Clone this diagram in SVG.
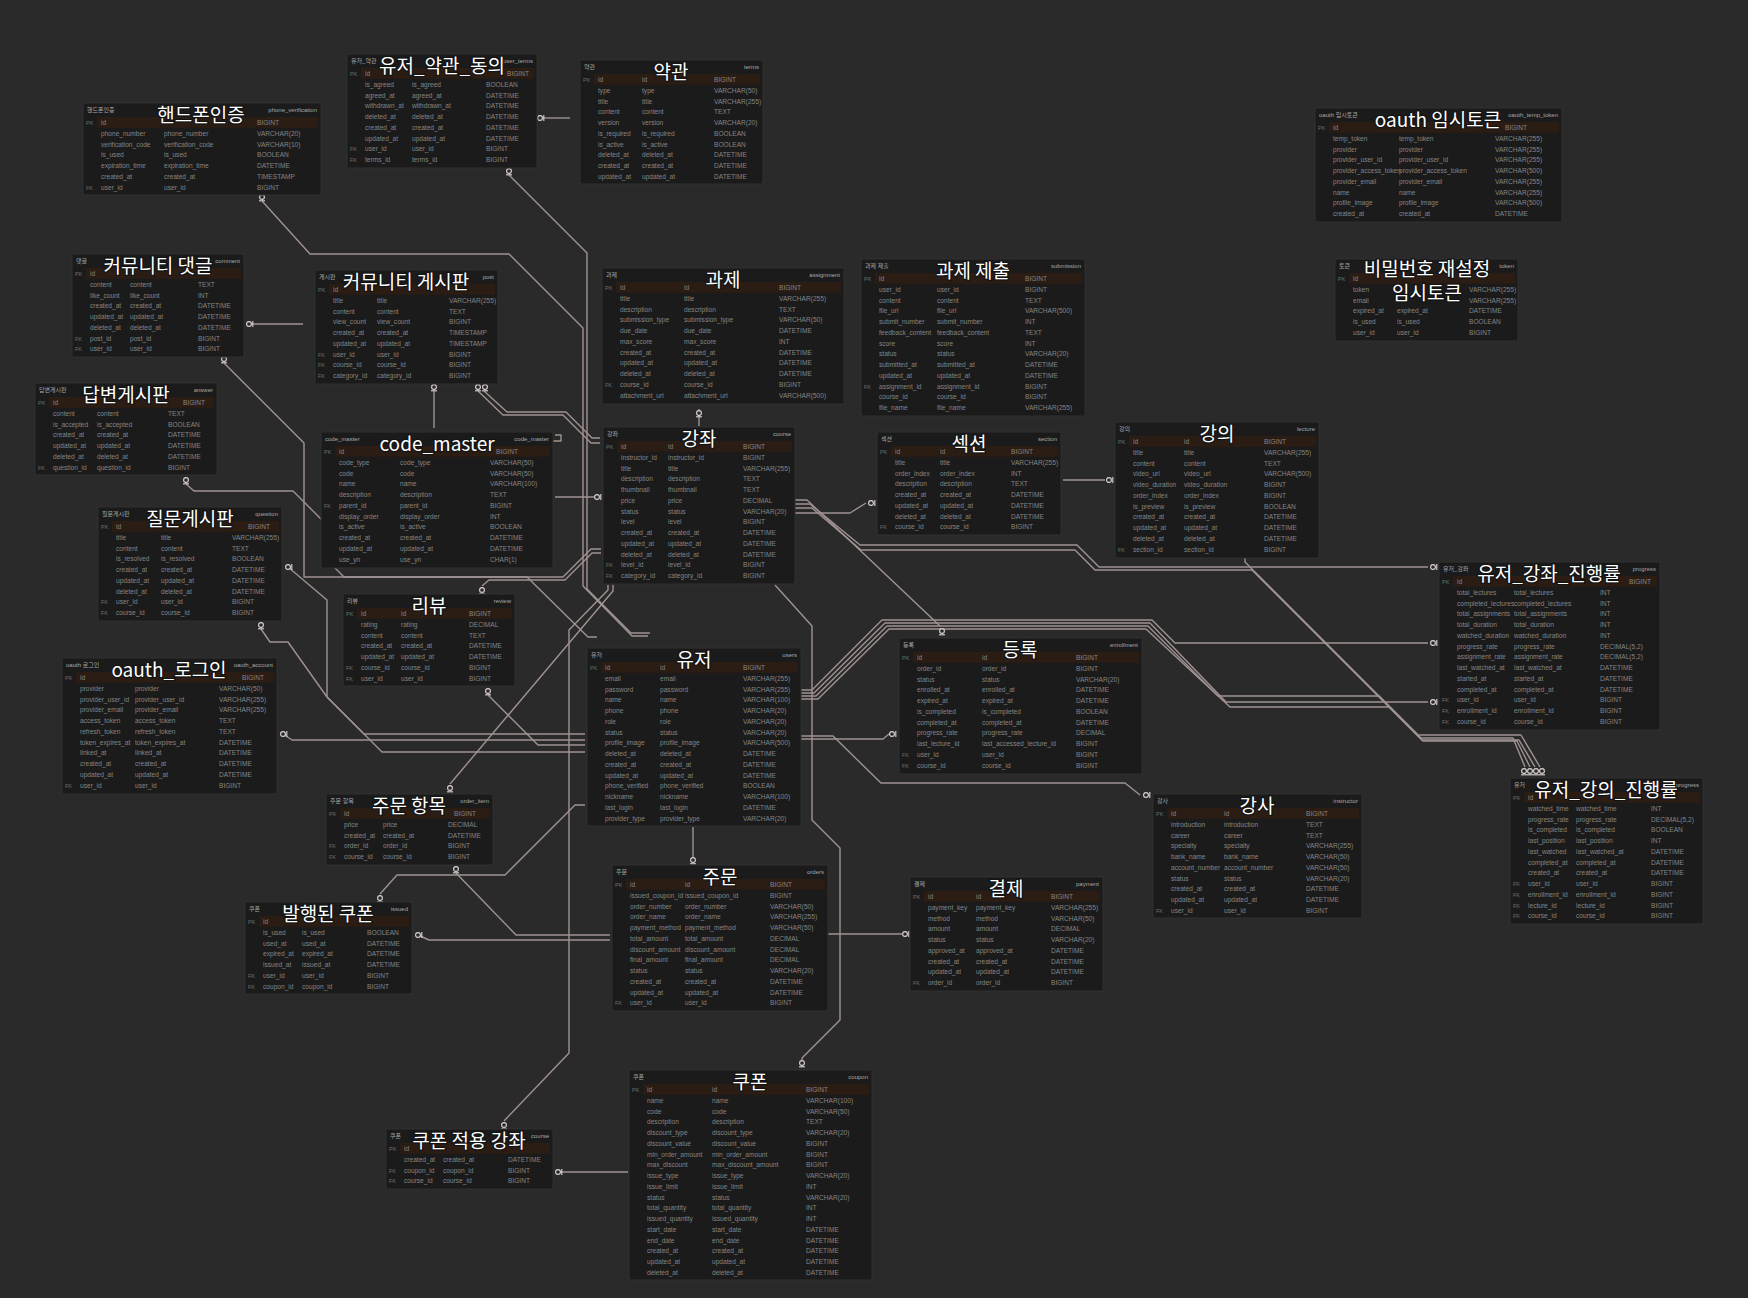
<svg xmlns="http://www.w3.org/2000/svg" width="1748" height="1298" viewBox="0 0 1748 1298">
<style>
.tb{fill:#1b1b1b;stroke:#303030;stroke-width:1}
.pk{fill:#2c1d14}
.t{font-family:"Noto Sans CJK KR","Noto Sans",sans-serif;font-size:19px;fill:#fff;text-anchor:middle;stroke:#141414;stroke-width:2.5;paint-order:stroke}
.h{font-family:"Liberation Sans","Noto Sans CJK KR",sans-serif;font-size:6px;fill:#a8a8a8}
.e{text-anchor:end}
.r{font-family:"Liberation Sans",sans-serif;font-size:6.6px;fill:#858585}
.k{font-size:5.5px;fill:#6f6f6f}
.c{fill:none;stroke:#a09392;stroke-width:1.4;stroke-linejoin:round}
.mk{fill:#2a2a2a;stroke:#ddd5d3;stroke-width:1.1}
</style>
<defs>
<g id="mv"><circle class="mk" cx="0" cy="0" r="2.4"/><path class="mk" d="M-3,3.8H3"/></g>
<g id="mh"><circle class="mk" cx="0" cy="0" r="2.4"/><path class="mk" d="M3.8,-3V3"/></g>
</defs>
<rect width="1748" height="1298" fill="#2a2a2a"/>

<g id="connectors">
<path class="c" d="M541,118H570"/>
<path class="c" d="M262,201L310,254H509L583,328V586L632,636H648"/>
<path class="c" d="M509,175L587,253V589L631,633H650"/>
<path class="c" d="M250,324H303"/>
<path class="c" d="M434,391V428"/>
<path class="c" d="M478,391L503,415H563L591,443H600"/>
<path class="c" d="M484,391L507,412H566L592,438H600"/>
<path class="c" d="M224,363L304,443V577H527L588,637H597"/>
<path class="c" d="M186,484L194,491H293L327,525V560L344,577H563L591,549H601"/>
<path class="c" d="M482,586L489,580H565L592,553H601"/>
<path class="c" d="M555,497H594"/>
<path class="c" d="M288,567L327,600V697L382,752H585"/>
<path class="c" d="M261,629L270,642H288L327,697L364,734H585"/>
<path class="c" d="M283,734L292,740H585"/>
<path class="c" d="M488,695L538,745H585"/>
<path class="c" d="M450,784L613,591V585"/>
<path class="c" d="M504,1121L569,1053V630L608,590V585"/>
<path class="c" d="M456,873L516,935H610"/>
<path class="c" d="M380,894L397,875H505L575,805H585"/>
<path class="c" d="M418,935L429,940H610"/>
<path class="c" d="M558,1172H628"/>
<path class="c" d="M775,585L812,626V820L840,848V1020L802,1058V1067"/>
<path class="c" d="M693,827V857"/>
<path class="c" d="M828,934H902"/>
<path class="c" d="M801,739H883L889,734"/>
<path class="c" d="M801,736H833L881,783H1125L1140,795"/>
<path class="c" d="M801,690H812L882,620H1152L1175,643H1428"/>
<path class="c" d="M801,693H814L885,623H1150L1226,702H1428"/>
<path class="c" d="M801,696H816L887,626H1148L1218,696H1379L1421,738H1513L1525,767"/>
<path class="c" d="M801,699H818L889,629H1146L1230,707H1389L1423,741H1517L1530,767"/>
<path class="c" d="M795,513H850L866,503"/>
<path class="c" d="M795,500H807L940,626"/>
<path class="c" d="M795,504H810L860,545H1077L1099,567H1428"/>
<path class="c" d="M795,508H812L861,550H1075L1095,570H1252L1422,740H1519L1535,767"/>
<path class="c" d="M1245,556V562L1418,735H1521L1540,767"/>
<path class="c" d="M1063,480H1105"/>
<path class="c" d="M699,409V426"/>
<path class="c" d="M553,441h8v-6h-6"/>
<use href="#mh" x="540" y="118"/>
<use href="#mv" x="509" y="171"/>
<use href="#mv" x="262" y="197"/>
<use href="#mh" x="249" y="324"/>
<use href="#mv" x="434" y="387"/>
<use href="#mv" x="478" y="387"/>
<use href="#mv" x="485" y="387"/>
<use href="#mv" x="224" y="359"/>
<use href="#mv" x="186" y="480"/>
<use href="#mh" x="597" y="497"/>
<use href="#mh" x="288" y="567"/>
<use href="#mv" x="261" y="625"/>
<use href="#mv" x="482" y="590"/>
<use href="#mv" x="488" y="691"/>
<use href="#mh" x="283" y="734"/>
<use href="#mv" x="450" y="788"/>
<use href="#mv" x="456" y="869"/>
<use href="#mv" x="380" y="898"/>
<use href="#mh" x="418" y="935"/>
<use href="#mv" x="504" y="1125"/>
<use href="#mh" x="558" y="1172"/>
<use href="#mv" x="802" y="1063"/>
<use href="#mv" x="693" y="860"/>
<use href="#mh" x="905" y="934"/>
<use href="#mh" x="892" y="734"/>
<use href="#mh" x="1146" y="795"/>
<use href="#mh" x="871" y="503"/>
<use href="#mh" x="1109" y="480"/>
<use href="#mv" x="942" y="631"/>
<use href="#mh" x="1433" y="567"/>
<use href="#mh" x="1433" y="643"/>
<use href="#mh" x="1433" y="702"/>
<use href="#mv" x="1524" y="771"/>
<use href="#mv" x="1530" y="771"/>
<use href="#mv" x="1536" y="771"/>
<use href="#mv" x="1542" y="771"/>
<use href="#mv" x="699" y="413"/>
</g>

<g id="t-phone" transform="translate(83,103)">
<rect class="tb" width="238" height="92"/><rect class="pk" x="14" y="14" width="221" height="10.75"/>
<text class="h" x="4" y="9">핸드폰인증</text><text class="h e" x="234" y="9">phone_verification</text>
<text class="r" y="22"><tspan class="k" x="3">PK</tspan><tspan x="18">id</tspan><tspan x="174">BIGINT</tspan></text>
<text class="r" y="32.75"><tspan x="18">phone_number</tspan><tspan x="81">phone_number</tspan><tspan x="174">VARCHAR(20)</tspan></text>
<text class="r" y="43.5"><tspan x="18">verification_code</tspan><tspan x="81">verification_code</tspan><tspan x="174">VARCHAR(10)</tspan></text>
<text class="r" y="54.25"><tspan x="18">is_used</tspan><tspan x="81">is_used</tspan><tspan x="174">BOOLEAN</tspan></text>
<text class="r" y="65"><tspan x="18">expiration_time</tspan><tspan x="81">expiration_time</tspan><tspan x="174">DATETIME</tspan></text>
<text class="r" y="75.75"><tspan x="18">created_at</tspan><tspan x="81">created_at</tspan><tspan x="174">TIMESTAMP</tspan></text>
<text class="r" y="86.5"><tspan class="k" x="3">FK</tspan><tspan x="18">user_id</tspan><tspan x="81">user_id</tspan><tspan x="174">BIGINT</tspan></text>
<text class="t" x="118" y="19">핸드폰인증</text>
</g>

<g id="t-user-terms" transform="translate(347,54)">
<rect class="tb" width="190" height="114"/><rect class="pk" x="14" y="14" width="173" height="10.75"/>
<text class="h" x="4" y="9">유저_약관</text><text class="h e" x="186" y="9">user_terms</text>
<text class="r" y="22"><tspan class="k" x="3">PK</tspan><tspan x="18">id</tspan><tspan x="160">BIGINT</tspan></text>
<text class="r" y="32.75"><tspan x="18">is_agreed</tspan><tspan x="65">is_agreed</tspan><tspan x="139">BOOLEAN</tspan></text>
<text class="r" y="43.5"><tspan x="18">agreed_at</tspan><tspan x="65">agreed_at</tspan><tspan x="139">DATETIME</tspan></text>
<text class="r" y="54.25"><tspan x="18">withdrawn_at</tspan><tspan x="65">withdrawn_at</tspan><tspan x="139">DATETIME</tspan></text>
<text class="r" y="65"><tspan x="18">deleted_at</tspan><tspan x="65">deleted_at</tspan><tspan x="139">DATETIME</tspan></text>
<text class="r" y="75.75"><tspan x="18">created_at</tspan><tspan x="65">created_at</tspan><tspan x="139">DATETIME</tspan></text>
<text class="r" y="86.5"><tspan x="18">updated_at</tspan><tspan x="65">updated_at</tspan><tspan x="139">DATETIME</tspan></text>
<text class="r" y="97.25"><tspan class="k" x="3">FK</tspan><tspan x="18">user_id</tspan><tspan x="65">user_id</tspan><tspan x="139">BIGINT</tspan></text>
<text class="r" y="108"><tspan class="k" x="3">FK</tspan><tspan x="18">terms_id</tspan><tspan x="65">terms_id</tspan><tspan x="139">BIGINT</tspan></text>
<text class="t" x="95" y="19">유저_약관_동의</text>
</g>

<g id="t-terms" transform="translate(580,60)">
<rect class="tb" width="183" height="124"/><rect class="pk" x="14" y="14" width="166" height="10.75"/>
<text class="h" x="4" y="9">약관</text><text class="h e" x="179" y="9">terms</text>
<text class="r" y="22"><tspan class="k" x="3">PK</tspan><tspan x="18">id</tspan><tspan x="62">id</tspan><tspan x="134">BIGINT</tspan></text>
<text class="r" y="32.75"><tspan x="18">type</tspan><tspan x="62">type</tspan><tspan x="134">VARCHAR(50)</tspan></text>
<text class="r" y="43.5"><tspan x="18">title</tspan><tspan x="62">title</tspan><tspan x="134">VARCHAR(255)</tspan></text>
<text class="r" y="54.25"><tspan x="18">content</tspan><tspan x="62">content</tspan><tspan x="134">TEXT</tspan></text>
<text class="r" y="65"><tspan x="18">version</tspan><tspan x="62">version</tspan><tspan x="134">VARCHAR(20)</tspan></text>
<text class="r" y="75.75"><tspan x="18">is_required</tspan><tspan x="62">is_required</tspan><tspan x="134">BOOLEAN</tspan></text>
<text class="r" y="86.5"><tspan x="18">is_active</tspan><tspan x="62">is_active</tspan><tspan x="134">BOOLEAN</tspan></text>
<text class="r" y="97.25"><tspan x="18">deleted_at</tspan><tspan x="62">deleted_at</tspan><tspan x="134">DATETIME</tspan></text>
<text class="r" y="108"><tspan x="18">created_at</tspan><tspan x="62">created_at</tspan><tspan x="134">DATETIME</tspan></text>
<text class="r" y="118.75"><tspan x="18">updated_at</tspan><tspan x="62">updated_at</tspan><tspan x="134">DATETIME</tspan></text>
<text class="t" x="91" y="19">약관</text>
</g>

<g id="t-oauth-temp" transform="translate(1315,108)">
<rect class="tb" width="247" height="114"/><rect class="pk" x="14" y="14" width="230" height="10.75"/>
<text class="h" x="4" y="9">oauth 임시토큰</text><text class="h e" x="243" y="9">oauth_temp_token</text>
<text class="r" y="22"><tspan class="k" x="3">PK</tspan><tspan x="18">id</tspan><tspan x="190">BIGINT</tspan></text>
<text class="r" y="32.75"><tspan x="18">temp_token</tspan><tspan x="84">temp_token</tspan><tspan x="180">VARCHAR(255)</tspan></text>
<text class="r" y="43.5"><tspan x="18">provider</tspan><tspan x="84">provider</tspan><tspan x="180">VARCHAR(255)</tspan></text>
<text class="r" y="54.25"><tspan x="18">provider_user_id</tspan><tspan x="84">provider_user_id</tspan><tspan x="180">VARCHAR(255)</tspan></text>
<text class="r" y="65"><tspan x="18">provider_access_token</tspan><tspan x="84">provider_access_token</tspan><tspan x="180">VARCHAR(500)</tspan></text>
<text class="r" y="75.75"><tspan x="18">provider_email</tspan><tspan x="84">provider_email</tspan><tspan x="180">VARCHAR(255)</tspan></text>
<text class="r" y="86.5"><tspan x="18">name</tspan><tspan x="84">name</tspan><tspan x="180">VARCHAR(255)</tspan></text>
<text class="r" y="97.25"><tspan x="18">profile_image</tspan><tspan x="84">profile_image</tspan><tspan x="180">VARCHAR(500)</tspan></text>
<text class="r" y="108"><tspan x="18">created_at</tspan><tspan x="84">created_at</tspan><tspan x="180">DATETIME</tspan></text>
<text class="t" x="123" y="19">oauth 임시토큰</text>
</g>

<g id="t-comment" transform="translate(72,254)">
<rect class="tb" width="172" height="103"/><rect class="pk" x="14" y="14" width="155" height="10.75"/>
<text class="h" x="4" y="9">댓글</text><text class="h e" x="168" y="9">comment</text>
<text class="r" y="22"><tspan class="k" x="3">PK</tspan><tspan x="18">id</tspan></text>
<text class="r" y="32.75"><tspan x="18">content</tspan><tspan x="58">content</tspan><tspan x="126">TEXT</tspan></text>
<text class="r" y="43.5"><tspan x="18">like_count</tspan><tspan x="58">like_count</tspan><tspan x="126">INT</tspan></text>
<text class="r" y="54.25"><tspan x="18">created_at</tspan><tspan x="58">created_at</tspan><tspan x="126">DATETIME</tspan></text>
<text class="r" y="65"><tspan x="18">updated_at</tspan><tspan x="58">updated_at</tspan><tspan x="126">DATETIME</tspan></text>
<text class="r" y="75.75"><tspan x="18">deleted_at</tspan><tspan x="58">deleted_at</tspan><tspan x="126">DATETIME</tspan></text>
<text class="r" y="86.5"><tspan class="k" x="3">FK</tspan><tspan x="18">post_id</tspan><tspan x="58">post_id</tspan><tspan x="126">BIGINT</tspan></text>
<text class="r" y="97.25"><tspan class="k" x="3">FK</tspan><tspan x="18">user_id</tspan><tspan x="58">user_id</tspan><tspan x="126">BIGINT</tspan></text>
<text class="t" x="86" y="19">커뮤니티 댓글</text>
</g>

<g id="t-post" transform="translate(315,270)">
<rect class="tb" width="183" height="114"/><rect class="pk" x="14" y="14" width="166" height="10.75"/>
<text class="h" x="4" y="9">게시판</text><text class="h e" x="179" y="9">post</text>
<text class="r" y="22"><tspan class="k" x="3">PK</tspan><tspan x="18">id</tspan></text>
<text class="r" y="32.75"><tspan x="18">title</tspan><tspan x="62">title</tspan><tspan x="134">VARCHAR(255)</tspan></text>
<text class="r" y="43.5"><tspan x="18">content</tspan><tspan x="62">content</tspan><tspan x="134">TEXT</tspan></text>
<text class="r" y="54.25"><tspan x="18">view_count</tspan><tspan x="62">view_count</tspan><tspan x="134">BIGINT</tspan></text>
<text class="r" y="65"><tspan x="18">created_at</tspan><tspan x="62">created_at</tspan><tspan x="134">TIMESTAMP</tspan></text>
<text class="r" y="75.75"><tspan x="18">updated_at</tspan><tspan x="62">updated_at</tspan><tspan x="134">TIMESTAMP</tspan></text>
<text class="r" y="86.5"><tspan class="k" x="3">FK</tspan><tspan x="18">user_id</tspan><tspan x="62">user_id</tspan><tspan x="134">BIGINT</tspan></text>
<text class="r" y="97.25"><tspan class="k" x="3">FK</tspan><tspan x="18">course_id</tspan><tspan x="62">course_id</tspan><tspan x="134">BIGINT</tspan></text>
<text class="r" y="108"><tspan class="k" x="3">FK</tspan><tspan x="18">category_id</tspan><tspan x="62">category_id</tspan><tspan x="134">BIGINT</tspan></text>
<text class="t" x="91" y="19">커뮤니티 게시판</text>
</g>

<g id="t-assignment" transform="translate(602,268)">
<rect class="tb" width="242" height="136"/><rect class="pk" x="14" y="14" width="225" height="10.75"/>
<text class="h" x="4" y="9">과제</text><text class="h e" x="238" y="9">assignment</text>
<text class="r" y="22"><tspan class="k" x="3">PK</tspan><tspan x="18">id</tspan><tspan x="82">id</tspan><tspan x="177">BIGINT</tspan></text>
<text class="r" y="32.75"><tspan x="18">title</tspan><tspan x="82">title</tspan><tspan x="177">VARCHAR(255)</tspan></text>
<text class="r" y="43.5"><tspan x="18">description</tspan><tspan x="82">description</tspan><tspan x="177">TEXT</tspan></text>
<text class="r" y="54.25"><tspan x="18">submission_type</tspan><tspan x="82">submission_type</tspan><tspan x="177">VARCHAR(50)</tspan></text>
<text class="r" y="65"><tspan x="18">due_date</tspan><tspan x="82">due_date</tspan><tspan x="177">DATETIME</tspan></text>
<text class="r" y="75.75"><tspan x="18">max_score</tspan><tspan x="82">max_score</tspan><tspan x="177">INT</tspan></text>
<text class="r" y="86.5"><tspan x="18">created_at</tspan><tspan x="82">created_at</tspan><tspan x="177">DATETIME</tspan></text>
<text class="r" y="97.25"><tspan x="18">updated_at</tspan><tspan x="82">updated_at</tspan><tspan x="177">DATETIME</tspan></text>
<text class="r" y="108"><tspan x="18">deleted_at</tspan><tspan x="82">deleted_at</tspan><tspan x="177">DATETIME</tspan></text>
<text class="r" y="118.75"><tspan class="k" x="3">FK</tspan><tspan x="18">course_id</tspan><tspan x="82">course_id</tspan><tspan x="177">BIGINT</tspan></text>
<text class="r" y="129.5"><tspan x="18">attachment_url</tspan><tspan x="82">attachment_url</tspan><tspan x="177">VARCHAR(500)</tspan></text>
<text class="t" x="121" y="19">과제</text>
</g>

<g id="t-submission" transform="translate(861,259)">
<rect class="tb" width="224" height="157"/><rect class="pk" x="14" y="14" width="207" height="10.75"/>
<text class="h" x="4" y="9">과제 제출</text><text class="h e" x="220" y="9">submission</text>
<text class="r" y="22"><tspan class="k" x="3">PK</tspan><tspan x="18">id</tspan><tspan x="164">BIGINT</tspan></text>
<text class="r" y="32.75"><tspan x="18">user_id</tspan><tspan x="76">user_id</tspan><tspan x="164">BIGINT</tspan></text>
<text class="r" y="43.5"><tspan x="18">content</tspan><tspan x="76">content</tspan><tspan x="164">TEXT</tspan></text>
<text class="r" y="54.25"><tspan x="18">file_url</tspan><tspan x="76">file_url</tspan><tspan x="164">VARCHAR(500)</tspan></text>
<text class="r" y="65"><tspan x="18">submit_number</tspan><tspan x="76">submit_number</tspan><tspan x="164">INT</tspan></text>
<text class="r" y="75.75"><tspan x="18">feedback_content</tspan><tspan x="76">feedback_content</tspan><tspan x="164">TEXT</tspan></text>
<text class="r" y="86.5"><tspan x="18">score</tspan><tspan x="76">score</tspan><tspan x="164">INT</tspan></text>
<text class="r" y="97.25"><tspan x="18">status</tspan><tspan x="76">status</tspan><tspan x="164">VARCHAR(20)</tspan></text>
<text class="r" y="108"><tspan x="18">submitted_at</tspan><tspan x="76">submitted_at</tspan><tspan x="164">DATETIME</tspan></text>
<text class="r" y="118.75"><tspan x="18">updated_at</tspan><tspan x="76">updated_at</tspan><tspan x="164">DATETIME</tspan></text>
<text class="r" y="129.5"><tspan class="k" x="3">FK</tspan><tspan x="18">assignment_id</tspan><tspan x="76">assignment_id</tspan><tspan x="164">BIGINT</tspan></text>
<text class="r" y="140.25"><tspan x="18">course_id</tspan><tspan x="76">course_id</tspan><tspan x="164">BIGINT</tspan></text>
<text class="r" y="151"><tspan x="18">file_name</tspan><tspan x="76">file_name</tspan><tspan x="164">VARCHAR(255)</tspan></text>
<text class="t" x="112" y="19">과제 제출</text>
</g>

<g id="t-pw-reset" transform="translate(1335,259)">
<rect class="tb" width="183" height="82"/><rect class="pk" x="14" y="14" width="166" height="10.75"/>
<text class="h" x="4" y="9">토큰</text><text class="h e" x="179" y="9">token</text>
<text class="r" y="22"><tspan class="k" x="3">PK</tspan><tspan x="18">id</tspan></text>
<text class="r" y="32.75"><tspan x="18">token</tspan><tspan x="134">VARCHAR(255)</tspan></text>
<text class="r" y="43.5"><tspan x="18">email</tspan><tspan x="134">VARCHAR(255)</tspan></text>
<text class="r" y="54.25"><tspan x="18">expired_at</tspan><tspan x="62">expired_at</tspan><tspan x="134">DATETIME</tspan></text>
<text class="r" y="65"><tspan x="18">is_used</tspan><tspan x="62">is_used</tspan><tspan x="134">BOOLEAN</tspan></text>
<text class="r" y="75.75"><tspan x="18">user_id</tspan><tspan x="62">user_id</tspan><tspan x="134">BIGINT</tspan></text>
<text class="t" x="92" y="17">비밀번호 재설정</text>
<text class="t" x="92" y="41">임시토큰</text>
</g>

<g id="t-answer" transform="translate(35,383)">
<rect class="tb" width="182" height="92"/><rect class="pk" x="14" y="14" width="165" height="10.75"/>
<text class="h" x="4" y="9">답변게시판</text><text class="h e" x="178" y="9">answer</text>
<text class="r" y="22"><tspan class="k" x="3">PK</tspan><tspan x="18">id</tspan><tspan x="148">BIGINT</tspan></text>
<text class="r" y="32.75"><tspan x="18">content</tspan><tspan x="62">content</tspan><tspan x="133">TEXT</tspan></text>
<text class="r" y="43.5"><tspan x="18">is_accepted</tspan><tspan x="62">is_accepted</tspan><tspan x="133">BOOLEAN</tspan></text>
<text class="r" y="54.25"><tspan x="18">created_at</tspan><tspan x="62">created_at</tspan><tspan x="133">DATETIME</tspan></text>
<text class="r" y="65"><tspan x="18">updated_at</tspan><tspan x="62">updated_at</tspan><tspan x="133">DATETIME</tspan></text>
<text class="r" y="75.75"><tspan x="18">deleted_at</tspan><tspan x="62">deleted_at</tspan><tspan x="133">DATETIME</tspan></text>
<text class="r" y="86.5"><tspan class="k" x="3">FK</tspan><tspan x="18">question_id</tspan><tspan x="62">question_id</tspan><tspan x="133">BIGINT</tspan></text>
<text class="t" x="91" y="19">답변게시판</text>
</g>

<g id="t-code-master" transform="translate(321,432)">
<rect class="tb" width="232" height="136"/><rect class="pk" x="14" y="14" width="215" height="10.75"/>
<text class="h" x="4" y="9">code_master</text><text class="h e" x="228" y="9">code_master</text>
<text class="r" y="22"><tspan class="k" x="3">PK</tspan><tspan x="18">id</tspan><tspan x="175">BIGINT</tspan></text>
<text class="r" y="32.75"><tspan x="18">code_type</tspan><tspan x="79">code_type</tspan><tspan x="169">VARCHAR(50)</tspan></text>
<text class="r" y="43.5"><tspan x="18">code</tspan><tspan x="79">code</tspan><tspan x="169">VARCHAR(50)</tspan></text>
<text class="r" y="54.25"><tspan x="18">name</tspan><tspan x="79">name</tspan><tspan x="169">VARCHAR(100)</tspan></text>
<text class="r" y="65"><tspan x="18">description</tspan><tspan x="79">description</tspan><tspan x="169">TEXT</tspan></text>
<text class="r" y="75.75"><tspan class="k" x="3">FK</tspan><tspan x="18">parent_id</tspan><tspan x="79">parent_id</tspan><tspan x="169">BIGINT</tspan></text>
<text class="r" y="86.5"><tspan x="18">display_order</tspan><tspan x="79">display_order</tspan><tspan x="169">INT</tspan></text>
<text class="r" y="97.25"><tspan x="18">is_active</tspan><tspan x="79">is_active</tspan><tspan x="169">BOOLEAN</tspan></text>
<text class="r" y="108"><tspan x="18">created_at</tspan><tspan x="79">created_at</tspan><tspan x="169">DATETIME</tspan></text>
<text class="r" y="118.75"><tspan x="18">updated_at</tspan><tspan x="79">updated_at</tspan><tspan x="169">DATETIME</tspan></text>
<text class="r" y="129.5"><tspan x="18">use_yn</tspan><tspan x="79">use_yn</tspan><tspan x="169">CHAR(1)</tspan></text>
<text class="t" x="116" y="19">code_master</text>
</g>

<g id="t-course" transform="translate(603,427)">
<rect class="tb" width="192" height="157"/><rect class="pk" x="14" y="14" width="175" height="10.75"/>
<text class="h" x="4" y="9">강좌</text><text class="h e" x="188" y="9">course</text>
<text class="r" y="22"><tspan class="k" x="3">PK</tspan><tspan x="18">id</tspan><tspan x="65">id</tspan><tspan x="140">BIGINT</tspan></text>
<text class="r" y="32.75"><tspan x="18">instructor_id</tspan><tspan x="65">instructor_id</tspan><tspan x="140">BIGINT</tspan></text>
<text class="r" y="43.5"><tspan x="18">title</tspan><tspan x="65">title</tspan><tspan x="140">VARCHAR(255)</tspan></text>
<text class="r" y="54.25"><tspan x="18">description</tspan><tspan x="65">description</tspan><tspan x="140">TEXT</tspan></text>
<text class="r" y="65"><tspan x="18">thumbnail</tspan><tspan x="65">thumbnail</tspan><tspan x="140">TEXT</tspan></text>
<text class="r" y="75.75"><tspan x="18">price</tspan><tspan x="65">price</tspan><tspan x="140">DECIMAL</tspan></text>
<text class="r" y="86.5"><tspan x="18">status</tspan><tspan x="65">status</tspan><tspan x="140">VARCHAR(20)</tspan></text>
<text class="r" y="97.25"><tspan x="18">level</tspan><tspan x="65">level</tspan><tspan x="140">BIGINT</tspan></text>
<text class="r" y="108"><tspan x="18">created_at</tspan><tspan x="65">created_at</tspan><tspan x="140">DATETIME</tspan></text>
<text class="r" y="118.75"><tspan x="18">updated_at</tspan><tspan x="65">updated_at</tspan><tspan x="140">DATETIME</tspan></text>
<text class="r" y="129.5"><tspan x="18">deleted_at</tspan><tspan x="65">deleted_at</tspan><tspan x="140">DATETIME</tspan></text>
<text class="r" y="140.25"><tspan class="k" x="3">FK</tspan><tspan x="18">level_id</tspan><tspan x="65">level_id</tspan><tspan x="140">BIGINT</tspan></text>
<text class="r" y="151"><tspan class="k" x="3">FK</tspan><tspan x="18">category_id</tspan><tspan x="65">category_id</tspan><tspan x="140">BIGINT</tspan></text>
<text class="t" x="96" y="19">강좌</text>
</g>

<g id="t-section" transform="translate(877,432)">
<rect class="tb" width="184" height="103"/><rect class="pk" x="14" y="14" width="167" height="10.75"/>
<text class="h" x="4" y="9">섹션</text><text class="h e" x="180" y="9">section</text>
<text class="r" y="22"><tspan class="k" x="3">PK</tspan><tspan x="18">id</tspan><tspan x="63">id</tspan><tspan x="134">BIGINT</tspan></text>
<text class="r" y="32.75"><tspan x="18">title</tspan><tspan x="63">title</tspan><tspan x="134">VARCHAR(255)</tspan></text>
<text class="r" y="43.5"><tspan x="18">order_index</tspan><tspan x="63">order_index</tspan><tspan x="134">INT</tspan></text>
<text class="r" y="54.25"><tspan x="18">description</tspan><tspan x="63">description</tspan><tspan x="134">TEXT</tspan></text>
<text class="r" y="65"><tspan x="18">created_at</tspan><tspan x="63">created_at</tspan><tspan x="134">DATETIME</tspan></text>
<text class="r" y="75.75"><tspan x="18">updated_at</tspan><tspan x="63">updated_at</tspan><tspan x="134">DATETIME</tspan></text>
<text class="r" y="86.5"><tspan x="18">deleted_at</tspan><tspan x="63">deleted_at</tspan><tspan x="134">DATETIME</tspan></text>
<text class="r" y="97.25"><tspan class="k" x="3">FK</tspan><tspan x="18">course_id</tspan><tspan x="63">course_id</tspan><tspan x="134">BIGINT</tspan></text>
<text class="t" x="92" y="19">섹션</text>
</g>

<g id="t-lecture" transform="translate(1115,422)">
<rect class="tb" width="204" height="136"/><rect class="pk" x="14" y="14" width="187" height="10.75"/>
<text class="h" x="4" y="9">강의</text><text class="h e" x="200" y="9">lecture</text>
<text class="r" y="22"><tspan class="k" x="3">PK</tspan><tspan x="18">id</tspan><tspan x="69">id</tspan><tspan x="149">BIGINT</tspan></text>
<text class="r" y="32.75"><tspan x="18">title</tspan><tspan x="69">title</tspan><tspan x="149">VARCHAR(255)</tspan></text>
<text class="r" y="43.5"><tspan x="18">content</tspan><tspan x="69">content</tspan><tspan x="149">TEXT</tspan></text>
<text class="r" y="54.25"><tspan x="18">video_url</tspan><tspan x="69">video_url</tspan><tspan x="149">VARCHAR(500)</tspan></text>
<text class="r" y="65"><tspan x="18">video_duration</tspan><tspan x="69">video_duration</tspan><tspan x="149">BIGINT</tspan></text>
<text class="r" y="75.75"><tspan x="18">order_index</tspan><tspan x="69">order_index</tspan><tspan x="149">BIGINT</tspan></text>
<text class="r" y="86.5"><tspan x="18">is_preview</tspan><tspan x="69">is_preview</tspan><tspan x="149">BOOLEAN</tspan></text>
<text class="r" y="97.25"><tspan x="18">created_at</tspan><tspan x="69">created_at</tspan><tspan x="149">DATETIME</tspan></text>
<text class="r" y="108"><tspan x="18">updated_at</tspan><tspan x="69">updated_at</tspan><tspan x="149">DATETIME</tspan></text>
<text class="r" y="118.75"><tspan x="18">deleted_at</tspan><tspan x="69">deleted_at</tspan><tspan x="149">DATETIME</tspan></text>
<text class="r" y="129.5"><tspan class="k" x="3">FK</tspan><tspan x="18">section_id</tspan><tspan x="69">section_id</tspan><tspan x="149">BIGINT</tspan></text>
<text class="t" x="102" y="19">강의</text>
</g>

<g id="t-question" transform="translate(98,507)">
<rect class="tb" width="184" height="114"/><rect class="pk" x="14" y="14" width="167" height="10.75"/>
<text class="h" x="4" y="9">질문게시판</text><text class="h e" x="180" y="9">question</text>
<text class="r" y="22"><tspan class="k" x="3">PK</tspan><tspan x="18">id</tspan><tspan x="150">BIGINT</tspan></text>
<text class="r" y="32.75"><tspan x="18">title</tspan><tspan x="63">title</tspan><tspan x="134">VARCHAR(255)</tspan></text>
<text class="r" y="43.5"><tspan x="18">content</tspan><tspan x="63">content</tspan><tspan x="134">TEXT</tspan></text>
<text class="r" y="54.25"><tspan x="18">is_resolved</tspan><tspan x="63">is_resolved</tspan><tspan x="134">BOOLEAN</tspan></text>
<text class="r" y="65"><tspan x="18">created_at</tspan><tspan x="63">created_at</tspan><tspan x="134">DATETIME</tspan></text>
<text class="r" y="75.75"><tspan x="18">updated_at</tspan><tspan x="63">updated_at</tspan><tspan x="134">DATETIME</tspan></text>
<text class="r" y="86.5"><tspan x="18">deleted_at</tspan><tspan x="63">deleted_at</tspan><tspan x="134">DATETIME</tspan></text>
<text class="r" y="97.25"><tspan class="k" x="3">FK</tspan><tspan x="18">user_id</tspan><tspan x="63">user_id</tspan><tspan x="134">BIGINT</tspan></text>
<text class="r" y="108"><tspan class="k" x="3">FK</tspan><tspan x="18">course_id</tspan><tspan x="63">course_id</tspan><tspan x="134">BIGINT</tspan></text>
<text class="t" x="92" y="19">질문게시판</text>
</g>

<g id="t-review" transform="translate(343,594)">
<rect class="tb" width="172" height="92"/><rect class="pk" x="14" y="14" width="155" height="10.75"/>
<text class="h" x="4" y="9">리뷰</text><text class="h e" x="168" y="9">review</text>
<text class="r" y="22"><tspan class="k" x="3">PK</tspan><tspan x="18">id</tspan><tspan x="58">id</tspan><tspan x="126">BIGINT</tspan></text>
<text class="r" y="32.75"><tspan x="18">rating</tspan><tspan x="58">rating</tspan><tspan x="126">DECIMAL</tspan></text>
<text class="r" y="43.5"><tspan x="18">content</tspan><tspan x="58">content</tspan><tspan x="126">TEXT</tspan></text>
<text class="r" y="54.25"><tspan x="18">created_at</tspan><tspan x="58">created_at</tspan><tspan x="126">DATETIME</tspan></text>
<text class="r" y="65"><tspan x="18">updated_at</tspan><tspan x="58">updated_at</tspan><tspan x="126">DATETIME</tspan></text>
<text class="r" y="75.75"><tspan class="k" x="3">FK</tspan><tspan x="18">course_id</tspan><tspan x="58">course_id</tspan><tspan x="126">BIGINT</tspan></text>
<text class="r" y="86.5"><tspan class="k" x="3">FK</tspan><tspan x="18">user_id</tspan><tspan x="58">user_id</tspan><tspan x="126">BIGINT</tspan></text>
<text class="t" x="86" y="19">리뷰</text>
</g>

<g id="t-user-course-progress" transform="translate(1439,562)">
<rect class="tb" width="221" height="168"/><rect class="pk" x="14" y="14" width="204" height="10.75"/>
<text class="h" x="4" y="9">유저_강좌</text><text class="h e" x="217" y="9">progress</text>
<text class="r" y="22"><tspan class="k" x="3">PK</tspan><tspan x="18">id</tspan><tspan x="190">BIGINT</tspan></text>
<text class="r" y="32.75"><tspan x="18">total_lectures</tspan><tspan x="75">total_lectures</tspan><tspan x="161">INT</tspan></text>
<text class="r" y="43.5"><tspan x="18">completed_lectures</tspan><tspan x="75">completed_lectures</tspan><tspan x="161">INT</tspan></text>
<text class="r" y="54.25"><tspan x="18">total_assignments</tspan><tspan x="75">total_assignments</tspan><tspan x="161">INT</tspan></text>
<text class="r" y="65"><tspan x="18">total_duration</tspan><tspan x="75">total_duration</tspan><tspan x="161">INT</tspan></text>
<text class="r" y="75.75"><tspan x="18">watched_duration</tspan><tspan x="75">watched_duration</tspan><tspan x="161">INT</tspan></text>
<text class="r" y="86.5"><tspan x="18">progress_rate</tspan><tspan x="75">progress_rate</tspan><tspan x="161">DECIMAL(5,2)</tspan></text>
<text class="r" y="97.25"><tspan x="18">assignment_rate</tspan><tspan x="75">assignment_rate</tspan><tspan x="161">DECIMAL(5,2)</tspan></text>
<text class="r" y="108"><tspan x="18">last_watched_at</tspan><tspan x="75">last_watched_at</tspan><tspan x="161">DATETIME</tspan></text>
<text class="r" y="118.75"><tspan x="18">started_at</tspan><tspan x="75">started_at</tspan><tspan x="161">DATETIME</tspan></text>
<text class="r" y="129.5"><tspan x="18">completed_at</tspan><tspan x="75">completed_at</tspan><tspan x="161">DATETIME</tspan></text>
<text class="r" y="140.25"><tspan class="k" x="3">FK</tspan><tspan x="18">user_id</tspan><tspan x="75">user_id</tspan><tspan x="161">BIGINT</tspan></text>
<text class="r" y="151"><tspan class="k" x="3">FK</tspan><tspan x="18">enrollment_id</tspan><tspan x="75">enrollment_id</tspan><tspan x="161">BIGINT</tspan></text>
<text class="r" y="161.75"><tspan class="k" x="3">FK</tspan><tspan x="18">course_id</tspan><tspan x="75">course_id</tspan><tspan x="161">BIGINT</tspan></text>
<text class="t" x="110" y="19">유저_강좌_진행률</text>
</g>

<g id="t-oauth-login" transform="translate(62,658)">
<rect class="tb" width="215" height="136"/><rect class="pk" x="14" y="14" width="198" height="10.75"/>
<text class="h" x="4" y="9">oauth 로그인</text><text class="h e" x="211" y="9">oauth_account</text>
<text class="r" y="22"><tspan class="k" x="3">PK</tspan><tspan x="18">id</tspan><tspan x="180">BIGINT</tspan></text>
<text class="r" y="32.75"><tspan x="18">provider</tspan><tspan x="73">provider</tspan><tspan x="157">VARCHAR(50)</tspan></text>
<text class="r" y="43.5"><tspan x="18">provider_user_id</tspan><tspan x="73">provider_user_id</tspan><tspan x="157">VARCHAR(255)</tspan></text>
<text class="r" y="54.25"><tspan x="18">provider_email</tspan><tspan x="73">provider_email</tspan><tspan x="157">VARCHAR(255)</tspan></text>
<text class="r" y="65"><tspan x="18">access_token</tspan><tspan x="73">access_token</tspan><tspan x="157">TEXT</tspan></text>
<text class="r" y="75.75"><tspan x="18">refresh_token</tspan><tspan x="73">refresh_token</tspan><tspan x="157">TEXT</tspan></text>
<text class="r" y="86.5"><tspan x="18">token_expires_at</tspan><tspan x="73">token_expires_at</tspan><tspan x="157">DATETIME</tspan></text>
<text class="r" y="97.25"><tspan x="18">linked_at</tspan><tspan x="73">linked_at</tspan><tspan x="157">DATETIME</tspan></text>
<text class="r" y="108"><tspan x="18">created_at</tspan><tspan x="73">created_at</tspan><tspan x="157">DATETIME</tspan></text>
<text class="r" y="118.75"><tspan x="18">updated_at</tspan><tspan x="73">updated_at</tspan><tspan x="157">DATETIME</tspan></text>
<text class="r" y="129.5"><tspan class="k" x="3">FK</tspan><tspan x="18">user_id</tspan><tspan x="73">user_id</tspan><tspan x="157">BIGINT</tspan></text>
<text class="t" x="107" y="19">oauth_로그인</text>
</g>

<g id="t-user" transform="translate(587,648)">
<rect class="tb" width="214" height="178"/><rect class="pk" x="14" y="14" width="197" height="10.75"/>
<text class="h" x="4" y="9">유저</text><text class="h e" x="210" y="9">users</text>
<text class="r" y="22"><tspan class="k" x="3">PK</tspan><tspan x="18">id</tspan><tspan x="73">id</tspan><tspan x="156">BIGINT</tspan></text>
<text class="r" y="32.75"><tspan x="18">email</tspan><tspan x="73">email</tspan><tspan x="156">VARCHAR(255)</tspan></text>
<text class="r" y="43.5"><tspan x="18">password</tspan><tspan x="73">password</tspan><tspan x="156">VARCHAR(255)</tspan></text>
<text class="r" y="54.25"><tspan x="18">name</tspan><tspan x="73">name</tspan><tspan x="156">VARCHAR(100)</tspan></text>
<text class="r" y="65"><tspan x="18">phone</tspan><tspan x="73">phone</tspan><tspan x="156">VARCHAR(20)</tspan></text>
<text class="r" y="75.75"><tspan x="18">role</tspan><tspan x="73">role</tspan><tspan x="156">VARCHAR(20)</tspan></text>
<text class="r" y="86.5"><tspan x="18">status</tspan><tspan x="73">status</tspan><tspan x="156">VARCHAR(20)</tspan></text>
<text class="r" y="97.25"><tspan x="18">profile_image</tspan><tspan x="73">profile_image</tspan><tspan x="156">VARCHAR(500)</tspan></text>
<text class="r" y="108"><tspan x="18">deleted_at</tspan><tspan x="73">deleted_at</tspan><tspan x="156">DATETIME</tspan></text>
<text class="r" y="118.75"><tspan x="18">created_at</tspan><tspan x="73">created_at</tspan><tspan x="156">DATETIME</tspan></text>
<text class="r" y="129.5"><tspan x="18">updated_at</tspan><tspan x="73">updated_at</tspan><tspan x="156">DATETIME</tspan></text>
<text class="r" y="140.25"><tspan x="18">phone_verified</tspan><tspan x="73">phone_verified</tspan><tspan x="156">BOOLEAN</tspan></text>
<text class="r" y="151"><tspan x="18">nickname</tspan><tspan x="73">nickname</tspan><tspan x="156">VARCHAR(100)</tspan></text>
<text class="r" y="161.75"><tspan x="18">last_login</tspan><tspan x="73">last_login</tspan><tspan x="156">DATETIME</tspan></text>
<text class="r" y="172.5"><tspan x="18">provider_type</tspan><tspan x="73">provider_type</tspan><tspan x="156">VARCHAR(20)</tspan></text>
<text class="t" x="107" y="19">유저</text>
</g>

<g id="t-enrollment" transform="translate(899,638)">
<rect class="tb" width="243" height="136"/><rect class="pk" x="14" y="14" width="226" height="10.75"/>
<text class="h" x="4" y="9">등록</text><text class="h e" x="239" y="9">enrollment</text>
<text class="r" y="22"><tspan class="k" x="3">PK</tspan><tspan x="18">id</tspan><tspan x="83">id</tspan><tspan x="177">BIGINT</tspan></text>
<text class="r" y="32.75"><tspan x="18">order_id</tspan><tspan x="83">order_id</tspan><tspan x="177">BIGINT</tspan></text>
<text class="r" y="43.5"><tspan x="18">status</tspan><tspan x="83">status</tspan><tspan x="177">VARCHAR(20)</tspan></text>
<text class="r" y="54.25"><tspan x="18">enrolled_at</tspan><tspan x="83">enrolled_at</tspan><tspan x="177">DATETIME</tspan></text>
<text class="r" y="65"><tspan x="18">expired_at</tspan><tspan x="83">expired_at</tspan><tspan x="177">DATETIME</tspan></text>
<text class="r" y="75.75"><tspan x="18">is_completed</tspan><tspan x="83">is_completed</tspan><tspan x="177">BOOLEAN</tspan></text>
<text class="r" y="86.5"><tspan x="18">completed_at</tspan><tspan x="83">completed_at</tspan><tspan x="177">DATETIME</tspan></text>
<text class="r" y="97.25"><tspan x="18">progress_rate</tspan><tspan x="83">progress_rate</tspan><tspan x="177">DECIMAL</tspan></text>
<text class="r" y="108"><tspan x="18">last_lecture_id</tspan><tspan x="83">last_accessed_lecture_id</tspan><tspan x="177">BIGINT</tspan></text>
<text class="r" y="118.75"><tspan class="k" x="3">FK</tspan><tspan x="18">user_id</tspan><tspan x="83">user_id</tspan><tspan x="177">BIGINT</tspan></text>
<text class="r" y="129.5"><tspan class="k" x="3">FK</tspan><tspan x="18">course_id</tspan><tspan x="83">course_id</tspan><tspan x="177">BIGINT</tspan></text>
<text class="t" x="121" y="19">등록</text>
</g>

<g id="t-user-lecture-progress" transform="translate(1510,778)">
<rect class="tb" width="193" height="146"/><rect class="pk" x="14" y="14" width="176" height="10.75"/>
<text class="h" x="4" y="9">유저</text><text class="h e" x="189" y="9">progress</text>
<text class="r" y="22"><tspan class="k" x="3">PK</tspan><tspan x="18">id</tspan></text>
<text class="r" y="32.75"><tspan x="18">watched_time</tspan><tspan x="66">watched_time</tspan><tspan x="141">INT</tspan></text>
<text class="r" y="43.5"><tspan x="18">progress_rate</tspan><tspan x="66">progress_rate</tspan><tspan x="141">DECIMAL(5,2)</tspan></text>
<text class="r" y="54.25"><tspan x="18">is_completed</tspan><tspan x="66">is_completed</tspan><tspan x="141">BOOLEAN</tspan></text>
<text class="r" y="65"><tspan x="18">last_position</tspan><tspan x="66">last_position</tspan><tspan x="141">INT</tspan></text>
<text class="r" y="75.75"><tspan x="18">last_watched</tspan><tspan x="66">last_watched_at</tspan><tspan x="141">DATETIME</tspan></text>
<text class="r" y="86.5"><tspan x="18">completed_at</tspan><tspan x="66">completed_at</tspan><tspan x="141">DATETIME</tspan></text>
<text class="r" y="97.25"><tspan x="18">created_at</tspan><tspan x="66">created_at</tspan><tspan x="141">DATETIME</tspan></text>
<text class="r" y="108"><tspan class="k" x="3">FK</tspan><tspan x="18">user_id</tspan><tspan x="66">user_id</tspan><tspan x="141">BIGINT</tspan></text>
<text class="r" y="118.75"><tspan class="k" x="3">FK</tspan><tspan x="18">enrollment_id</tspan><tspan x="66">enrollment_id</tspan><tspan x="141">BIGINT</tspan></text>
<text class="r" y="129.5"><tspan class="k" x="3">FK</tspan><tspan x="18">lecture_id</tspan><tspan x="66">lecture_id</tspan><tspan x="141">BIGINT</tspan></text>
<text class="r" y="140.25"><tspan class="k" x="3">FK</tspan><tspan x="18">course_id</tspan><tspan x="66">course_id</tspan><tspan x="141">BIGINT</tspan></text>
<text class="t" x="96" y="19">유저_강의_진행률</text>
</g>

<g id="t-instructor" transform="translate(1153,794)">
<rect class="tb" width="209" height="124"/><rect class="pk" x="14" y="14" width="192" height="10.75"/>
<text class="h" x="4" y="9">강사</text><text class="h e" x="205" y="9">instructor</text>
<text class="r" y="22"><tspan class="k" x="3">PK</tspan><tspan x="18">id</tspan><tspan x="71">id</tspan><tspan x="153">BIGINT</tspan></text>
<text class="r" y="32.75"><tspan x="18">introduction</tspan><tspan x="71">introduction</tspan><tspan x="153">TEXT</tspan></text>
<text class="r" y="43.5"><tspan x="18">career</tspan><tspan x="71">career</tspan><tspan x="153">TEXT</tspan></text>
<text class="r" y="54.25"><tspan x="18">specialty</tspan><tspan x="71">specialty</tspan><tspan x="153">VARCHAR(255)</tspan></text>
<text class="r" y="65"><tspan x="18">bank_name</tspan><tspan x="71">bank_name</tspan><tspan x="153">VARCHAR(50)</tspan></text>
<text class="r" y="75.75"><tspan x="18">account_number</tspan><tspan x="71">account_number</tspan><tspan x="153">VARCHAR(50)</tspan></text>
<text class="r" y="86.5"><tspan x="18">status</tspan><tspan x="71">status</tspan><tspan x="153">VARCHAR(20)</tspan></text>
<text class="r" y="97.25"><tspan x="18">created_at</tspan><tspan x="71">created_at</tspan><tspan x="153">DATETIME</tspan></text>
<text class="r" y="108"><tspan x="18">updated_at</tspan><tspan x="71">updated_at</tspan><tspan x="153">DATETIME</tspan></text>
<text class="r" y="118.75"><tspan class="k" x="3">FK</tspan><tspan x="18">user_id</tspan><tspan x="71">user_id</tspan><tspan x="153">BIGINT</tspan></text>
<text class="t" x="104" y="19">강사</text>
</g>

<g id="t-order-item" transform="translate(326,794)">
<rect class="tb" width="167" height="71"/><rect class="pk" x="14" y="14" width="150" height="10.75"/>
<text class="h" x="4" y="9">주문 항목</text><text class="h e" x="163" y="9">order_item</text>
<text class="r" y="22"><tspan class="k" x="3">PK</tspan><tspan x="18">id</tspan><tspan x="128">BIGINT</tspan></text>
<text class="r" y="32.75"><tspan x="18">price</tspan><tspan x="57">price</tspan><tspan x="122">DECIMAL</tspan></text>
<text class="r" y="43.5"><tspan x="18">created_at</tspan><tspan x="57">created_at</tspan><tspan x="122">DATETIME</tspan></text>
<text class="r" y="54.25"><tspan class="k" x="3">FK</tspan><tspan x="18">order_id</tspan><tspan x="57">order_id</tspan><tspan x="122">BIGINT</tspan></text>
<text class="r" y="65"><tspan class="k" x="3">FK</tspan><tspan x="18">course_id</tspan><tspan x="57">course_id</tspan><tspan x="122">BIGINT</tspan></text>
<text class="t" x="83" y="19">주문 항목</text>
</g>

<g id="t-issued-coupon" transform="translate(245,902)">
<rect class="tb" width="167" height="92"/><rect class="pk" x="14" y="14" width="150" height="10.75"/>
<text class="h" x="4" y="9">쿠폰</text><text class="h e" x="163" y="9">issued</text>
<text class="r" y="22"><tspan class="k" x="3">PK</tspan><tspan x="18">id</tspan></text>
<text class="r" y="32.75"><tspan x="18">is_used</tspan><tspan x="57">is_used</tspan><tspan x="122">BOOLEAN</tspan></text>
<text class="r" y="43.5"><tspan x="18">used_at</tspan><tspan x="57">used_at</tspan><tspan x="122">DATETIME</tspan></text>
<text class="r" y="54.25"><tspan x="18">expired_at</tspan><tspan x="57">expired_at</tspan><tspan x="122">DATETIME</tspan></text>
<text class="r" y="65"><tspan x="18">issued_at</tspan><tspan x="57">issued_at</tspan><tspan x="122">DATETIME</tspan></text>
<text class="r" y="75.75"><tspan class="k" x="3">FK</tspan><tspan x="18">user_id</tspan><tspan x="57">user_id</tspan><tspan x="122">BIGINT</tspan></text>
<text class="r" y="86.5"><tspan class="k" x="3">FK</tspan><tspan x="18">coupon_id</tspan><tspan x="57">coupon_id</tspan><tspan x="122">BIGINT</tspan></text>
<text class="t" x="83" y="19">발행된 쿠폰</text>
</g>

<g id="t-order" transform="translate(612,865)">
<rect class="tb" width="216" height="146"/><rect class="pk" x="14" y="14" width="199" height="10.75"/>
<text class="h" x="4" y="9">주문</text><text class="h e" x="212" y="9">orders</text>
<text class="r" y="22"><tspan class="k" x="3">PK</tspan><tspan x="18">id</tspan><tspan x="73">id</tspan><tspan x="158">BIGINT</tspan></text>
<text class="r" y="32.75"><tspan x="18">issued_coupon_id</tspan><tspan x="73">issued_coupon_id</tspan><tspan x="158">BIGINT</tspan></text>
<text class="r" y="43.5"><tspan x="18">order_number</tspan><tspan x="73">order_number</tspan><tspan x="158">VARCHAR(50)</tspan></text>
<text class="r" y="54.25"><tspan x="18">order_name</tspan><tspan x="73">order_name</tspan><tspan x="158">VARCHAR(255)</tspan></text>
<text class="r" y="65"><tspan x="18">payment_method</tspan><tspan x="73">payment_method</tspan><tspan x="158">VARCHAR(50)</tspan></text>
<text class="r" y="75.75"><tspan x="18">total_amount</tspan><tspan x="73">total_amount</tspan><tspan x="158">DECIMAL</tspan></text>
<text class="r" y="86.5"><tspan x="18">discount_amount</tspan><tspan x="73">discount_amount</tspan><tspan x="158">DECIMAL</tspan></text>
<text class="r" y="97.25"><tspan x="18">final_amount</tspan><tspan x="73">final_amount</tspan><tspan x="158">DECIMAL</tspan></text>
<text class="r" y="108"><tspan x="18">status</tspan><tspan x="73">status</tspan><tspan x="158">VARCHAR(20)</tspan></text>
<text class="r" y="118.75"><tspan x="18">created_at</tspan><tspan x="73">created_at</tspan><tspan x="158">DATETIME</tspan></text>
<text class="r" y="129.5"><tspan x="18">updated_at</tspan><tspan x="73">updated_at</tspan><tspan x="158">DATETIME</tspan></text>
<text class="r" y="140.25"><tspan class="k" x="3">FK</tspan><tspan x="18">user_id</tspan><tspan x="73">user_id</tspan><tspan x="158">BIGINT</tspan></text>
<text class="t" x="108" y="19">주문</text>
</g>

<g id="t-payment" transform="translate(910,877)">
<rect class="tb" width="193" height="114"/><rect class="pk" x="14" y="14" width="176" height="10.75"/>
<text class="h" x="4" y="9">결제</text><text class="h e" x="189" y="9">payment</text>
<text class="r" y="22"><tspan class="k" x="3">PK</tspan><tspan x="18">id</tspan><tspan x="66">id</tspan><tspan x="141">BIGINT</tspan></text>
<text class="r" y="32.75"><tspan x="18">payment_key</tspan><tspan x="66">payment_key</tspan><tspan x="141">VARCHAR(255)</tspan></text>
<text class="r" y="43.5"><tspan x="18">method</tspan><tspan x="66">method</tspan><tspan x="141">VARCHAR(50)</tspan></text>
<text class="r" y="54.25"><tspan x="18">amount</tspan><tspan x="66">amount</tspan><tspan x="141">DECIMAL</tspan></text>
<text class="r" y="65"><tspan x="18">status</tspan><tspan x="66">status</tspan><tspan x="141">VARCHAR(20)</tspan></text>
<text class="r" y="75.75"><tspan x="18">approved_at</tspan><tspan x="66">approved_at</tspan><tspan x="141">DATETIME</tspan></text>
<text class="r" y="86.5"><tspan x="18">created_at</tspan><tspan x="66">created_at</tspan><tspan x="141">DATETIME</tspan></text>
<text class="r" y="97.25"><tspan x="18">updated_at</tspan><tspan x="66">updated_at</tspan><tspan x="141">DATETIME</tspan></text>
<text class="r" y="108"><tspan class="k" x="3">FK</tspan><tspan x="18">order_id</tspan><tspan x="66">order_id</tspan><tspan x="141">BIGINT</tspan></text>
<text class="t" x="96" y="19">결제</text>
</g>

<g id="t-coupon" transform="translate(629,1070)">
<rect class="tb" width="243" height="210"/><rect class="pk" x="14" y="14" width="226" height="10.75"/>
<text class="h" x="4" y="9">쿠폰</text><text class="h e" x="239" y="9">coupon</text>
<text class="r" y="22"><tspan class="k" x="3">PK</tspan><tspan x="18">id</tspan><tspan x="83">id</tspan><tspan x="177">BIGINT</tspan></text>
<text class="r" y="32.75"><tspan x="18">name</tspan><tspan x="83">name</tspan><tspan x="177">VARCHAR(100)</tspan></text>
<text class="r" y="43.5"><tspan x="18">code</tspan><tspan x="83">code</tspan><tspan x="177">VARCHAR(50)</tspan></text>
<text class="r" y="54.25"><tspan x="18">description</tspan><tspan x="83">description</tspan><tspan x="177">TEXT</tspan></text>
<text class="r" y="65"><tspan x="18">discount_type</tspan><tspan x="83">discount_type</tspan><tspan x="177">VARCHAR(20)</tspan></text>
<text class="r" y="75.75"><tspan x="18">discount_value</tspan><tspan x="83">discount_value</tspan><tspan x="177">BIGINT</tspan></text>
<text class="r" y="86.5"><tspan x="18">min_order_amount</tspan><tspan x="83">min_order_amount</tspan><tspan x="177">BIGINT</tspan></text>
<text class="r" y="97.25"><tspan x="18">max_discount</tspan><tspan x="83">max_discount_amount</tspan><tspan x="177">BIGINT</tspan></text>
<text class="r" y="108"><tspan x="18">issue_type</tspan><tspan x="83">issue_type</tspan><tspan x="177">VARCHAR(20)</tspan></text>
<text class="r" y="118.75"><tspan x="18">issue_limit</tspan><tspan x="83">issue_limit</tspan><tspan x="177">INT</tspan></text>
<text class="r" y="129.5"><tspan x="18">status</tspan><tspan x="83">status</tspan><tspan x="177">VARCHAR(20)</tspan></text>
<text class="r" y="140.25"><tspan x="18">total_quantity</tspan><tspan x="83">total_quantity</tspan><tspan x="177">INT</tspan></text>
<text class="r" y="151"><tspan x="18">issued_quantity</tspan><tspan x="83">issued_quantity</tspan><tspan x="177">INT</tspan></text>
<text class="r" y="161.75"><tspan x="18">start_date</tspan><tspan x="83">start_date</tspan><tspan x="177">DATETIME</tspan></text>
<text class="r" y="172.5"><tspan x="18">end_date</tspan><tspan x="83">end_date</tspan><tspan x="177">DATETIME</tspan></text>
<text class="r" y="183.25"><tspan x="18">created_at</tspan><tspan x="83">created_at</tspan><tspan x="177">DATETIME</tspan></text>
<text class="r" y="194"><tspan x="18">updated_at</tspan><tspan x="83">updated_at</tspan><tspan x="177">DATETIME</tspan></text>
<text class="r" y="204.75"><tspan x="18">deleted_at</tspan><tspan x="83">deleted_at</tspan><tspan x="177">DATETIME</tspan></text>
<text class="t" x="121" y="19">쿠폰</text>
</g>

<g id="t-coupon-course" transform="translate(386,1129)">
<rect class="tb" width="167" height="60"/><rect class="pk" x="14" y="14" width="150" height="10.75"/>
<text class="h" x="4" y="9">쿠폰</text><text class="h e" x="163" y="9">course</text>
<text class="r" y="22"><tspan class="k" x="3">PK</tspan><tspan x="18">id</tspan></text>
<text class="r" y="32.75"><tspan x="18">created_at</tspan><tspan x="57">created_at</tspan><tspan x="122">DATETIME</tspan></text>
<text class="r" y="43.5"><tspan class="k" x="3">FK</tspan><tspan x="18">coupon_id</tspan><tspan x="57">coupon_id</tspan><tspan x="122">BIGINT</tspan></text>
<text class="r" y="54.25"><tspan class="k" x="3">FK</tspan><tspan x="18">course_id</tspan><tspan x="57">course_id</tspan><tspan x="122">BIGINT</tspan></text>
<text class="t" x="83" y="19">쿠폰 적용 강좌</text>
</g>
</svg>
